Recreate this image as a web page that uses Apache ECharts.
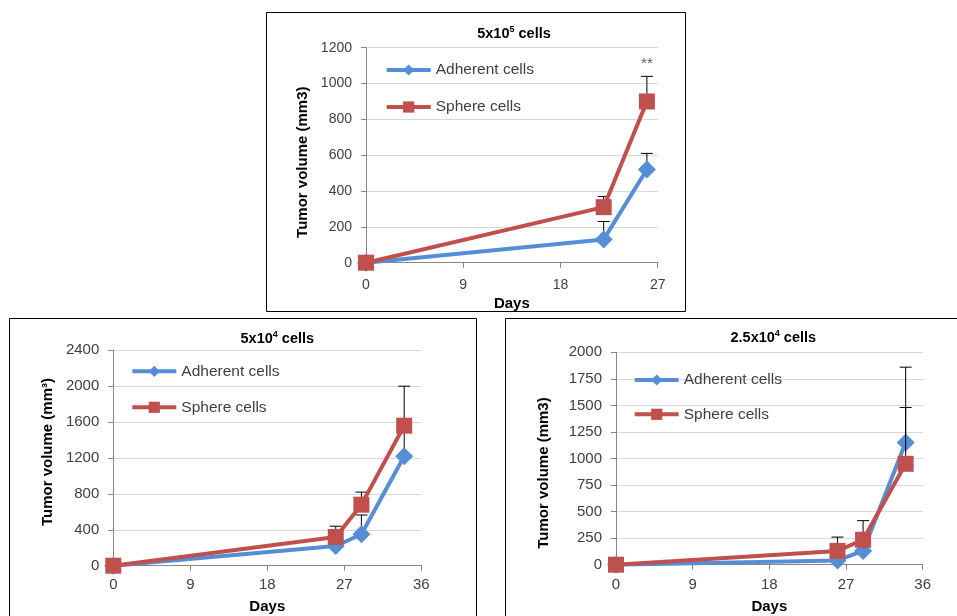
<!DOCTYPE html>
<html>
<head>
<meta charset="utf-8">
<script src="https://cdn.jsdelivr.net/npm/echarts@6/dist/echarts.min.js"></script>
<style>
  body { margin: 0; background: #fff; width: 957px; height: 616px; overflow: hidden; position: relative; }
  .chart { position: absolute; }
</style>
</head>
<body>
<div id="top" class="chart" style="left:266px;top:12px;width:420px;height:300px"></div>
<div id="left" class="chart" style="left:9px;top:318px;width:468px;height:302px"></div>
<div id="right" class="chart" style="left:505px;top:318px;width:455px;height:302px"></div>
<script>
// 5x10^5 cells
const daysTop = [0, 22, 26];
const adherentTop = [0, 130, 520];
const adherentTopErr = [0, 230, 610];
const sphereTop = [0, 310, 900];
const sphereTopErr = [0, 370, 1040];
const xTicksTop = [0, 9, 18, 27];
const yTicksTop = [0, 200, 400, 600, 800, 1000, 1200];

// 5x10^4 cells
const daysLeft = [0, 26, 29, 34];
const adherentLeft = [0, 220, 350, 1220];
const adherentLeftErr = [0, 300, 565, 1500];
const sphereLeft = [0, 320, 680, 1560];
const sphereLeftErr = [0, 440, 820, 2000];
const xTicksLeft = [0, 9, 18, 27, 36];
const yTicksLeft = [0, 400, 800, 1200, 1600, 2000, 2400];

// 2.5x10^4 cells
const daysRight = [0, 26, 29, 34];
const adherentRight = [0, 40, 130, 1150];
const adherentRightErr = [0, 90, 200, 1860];
const sphereRight = [0, 130, 235, 950];
const sphereRightErr = [0, 260, 415, 1480];
const xTicksRight = [0, 9, 18, 27, 36];
const yTicksRight = [0, 250, 500, 750, 1000, 1250, 1500, 1750, 2000];

const FONT = "'Liberation Sans', Arial, sans-serif";
const BLUE = "#558ED5";
const RED = "#C0504D";

const errorBar = (params, api) => {
  const x = api.value(0);
  const y = api.value(1);
  const top = api.value(2);
  if (top <= y) return null;
  const p0 = api.coord([x, y]);
  const p1 = api.coord([x, top]);
  const style = { stroke: "#000", lineWidth: 1 };
  return {
    type: "group",
    children: [
      { type: "line", shape: { x1: p0[0], y1: p0[1], x2: p1[0], y2: p1[1] }, style },
      { type: "line", shape: { x1: p1[0] - 6, y1: p1[1], x2: p1[0] + 6, y2: p1[1] }, style },
    ],
  };
};

const makeChart = (id, cfg) => {
  const el = document.getElementById(id);
  const chart = echarts.init(el);
  const w = el.clientWidth;
  const h = el.clientHeight;
  const xt = cfg.xTicks;
  const yt = cfg.yTicks;
  const pairs = (xs, ys) => xs.map((d, i) => [d, ys[i]]);
  const triples = (xs, ys, es) => xs.map((d, i) => [d, ys[i], es[i]]);

  const series = [
    {
      type: "custom",
      renderItem: errorBar,
      data: triples(cfg.days, cfg.adherent, cfg.adherentErr),
      z: 1,
      silent: true,
    },
    {
      name: "Adherent cells",
      type: "line",
      data: pairs(cfg.days, cfg.adherent),
      symbol: "diamond",
      symbolSize: 18,
      lineStyle: { color: BLUE, width: 4 },
      itemStyle: { color: BLUE },
      z: 2,
    },
    {
      type: "custom",
      renderItem: errorBar,
      data: triples(cfg.days, cfg.sphere, cfg.sphereErr),
      z: 3,
      silent: true,
    },
    {
      name: "Sphere cells",
      type: "line",
      data: pairs(cfg.days, cfg.sphere),
      symbol: "rect",
      symbolSize: 16,
      lineStyle: { color: RED, width: 4 },
      itemStyle: { color: RED },
      z: 4,
    },
  ];

  if (cfg.stars) {
    series.push({
      type: "scatter",
      data: [cfg.stars],
      symbolSize: 1,
      itemStyle: { color: "rgba(0,0,0,0)" },
      label: { show: true, position: "inside", formatter: "**", fontSize: 15, color: "#333", fontFamily: FONT },
      silent: true,
    });
  }

  chart.setOption({
    animation: false,
    textStyle: { fontFamily: FONT },
    graphic: [
      {
        type: "rect",
        shape: { x: 0.5, y: 0.5, width: w - 1, height: h - 1 },
        style: { fill: "none", stroke: "#000", lineWidth: 1 },
        silent: true,
      },
      {
        type: "text",
        x: cfg.titleX,
        y: cfg.titleY,
        style: {
          text: "{b|" + cfg.titleBase + "}{s|" + cfg.titleExp + "}{b| cells}",
          align: "center",
          verticalAlign: "middle",
          fontFamily: FONT,
          rich: {
            b: { fontSize: 14.5, fontWeight: "bold", fill: "#000", fontFamily: FONT, lineHeight: 18 },
            s: { fontSize: 9, fontWeight: "bold", fill: "#000", fontFamily: FONT, verticalAlign: "top", lineHeight: 18 },
          },
        },
      },
    ],
    legend: {
      orient: "vertical",
      left: cfg.legendLeft,
      top: cfg.legendTop,
      padding: 0,
      itemWidth: 44,
      itemHeight: 14,
      itemGap: cfg.legendGap,
      lineStyle: { width: 4 },
      textStyle: { fontSize: 15.5, color: "#404040", fontFamily: FONT, lineHeight: 16 },
      data: ["Adherent cells", "Sphere cells"],
    },
    grid: Object.assign({ outerBoundsMode: "none", containLabel: false }, cfg.grid),
    xAxis: {
      type: "value",
      min: xt[0],
      max: xt[xt.length - 1],
      interval: xt[1] - xt[0],
      name: "Days",
      nameLocation: "middle",
      nameGap: cfg.xNameGap,
      nameTextStyle: { fontSize: 15, fontWeight: "bold", color: "#000", fontFamily: FONT },
      axisLine: { lineStyle: { color: "#868686", width: 1 } },
      axisTick: { show: true, length: 5, lineStyle: { color: "#868686" } },
      axisLabel: { fontSize: cfg.tickFont, color: "#404040", margin: cfg.xLabelMargin, fontFamily: FONT },
      splitLine: { show: false },
    },
    yAxis: {
      type: "value",
      min: yt[0],
      max: yt[yt.length - 1],
      interval: yt[1] - yt[0],
      name: cfg.yName,
      nameLocation: "middle",
      nameGap: cfg.yNameGap,
      nameTextStyle: {
        fontSize: 15,
        fontWeight: "bold",
        color: "#000",
        fontFamily: FONT,
        padding: cfg.yNamePadding || 0,
      },
      axisLine: { show: true, lineStyle: { color: "#868686", width: 1 } },
      axisTick: { show: true, length: 5, lineStyle: { color: "#868686" } },
      axisLabel: {
        fontSize: cfg.tickFont,
        color: "#404040",
        margin: 14,
        fontFamily: FONT,
        formatter: (v) => String(v),
      },
      splitLine: { show: true, lineStyle: { color: "#D9D9D9", width: 1 } },
    },
    series,
  });
  return chart;
};

makeChart("top", {
  days: daysTop,
  adherent: adherentTop,
  adherentErr: adherentTopErr,
  sphere: sphereTop,
  sphereErr: sphereTopErr,
  xTicks: xTicksTop,
  yTicks: yTicksTop,
  stars: [26, 1110],
  titleBase: "5x10",
  titleExp: "5",
  titleX: 248,
  titleY: 22,
  grid: { left: 100, right: 28.3, top: 35.7, bottom: 49.3 },
  legendLeft: 118.7,
  legendTop: 50,
  legendGap: 21,
  tickFont: 14,
  xLabelMargin: 15,
  xNameGap: 32,
  yName: "Tumor volume (mm3)",
  yNameGap: 42,
  yNamePadding: [0, 14, 0, 0],
});

makeChart("left", {
  days: daysLeft,
  adherent: adherentLeft,
  adherentErr: adherentLeftErr,
  sphere: sphereLeft,
  sphereErr: sphereLeftErr,
  xTicks: xTicksLeft,
  yTicks: yTicksLeft,
  titleBase: "5x10",
  titleExp: "4",
  titleX: 268.3,
  titleY: 20.6,
  grid: { left: 104.3, right: 55.7, top: 32.3, bottom: 54.3 },
  legendLeft: 121.3,
  legendTop: 45.3,
  legendGap: 20,
  tickFont: 15,
  xLabelMargin: 12,
  xNameGap: 34,
  yName: "Tumor volume (mm³)",
  yNameGap: 56,
  yNamePadding: [0, 0, 0, 12],
});

makeChart("right", {
  days: daysRight,
  adherent: adherentRight,
  adherentErr: adherentRightErr,
  sphere: sphereRight,
  sphereErr: sphereRightErr,
  xTicks: xTicksRight,
  yTicks: yTicksRight,
  titleBase: "2.5x10",
  titleExp: "4",
  titleX: 268.3,
  titleY: 19.6,
  grid: { left: 111, right: 37.3, top: 34.3, bottom: 55.3 },
  legendLeft: 127.7,
  legendTop: 54,
  legendGap: 18.3,
  tickFont: 15,
  xLabelMargin: 13,
  xNameGap: 35,
  yName: "Tumor volume (mm3)",
  yNameGap: 65,
  yNamePadding: [0, 29, 0, 0],
});
</script>
</body>
</html>
